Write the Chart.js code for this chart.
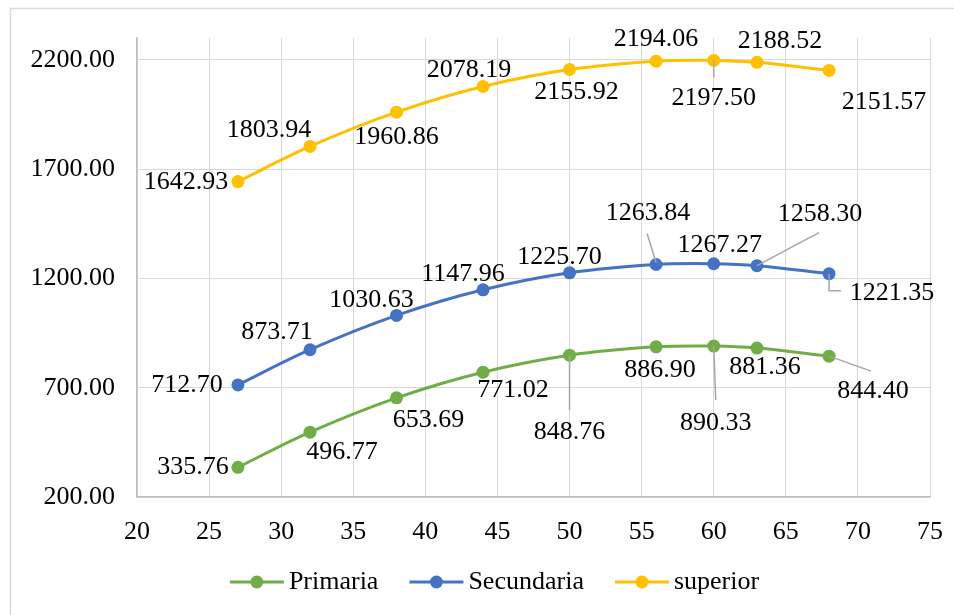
<!DOCTYPE html>
<html><head><meta charset="utf-8">
<script src="https://cdn.jsdelivr.net/npm/chart.js@4/dist/chart.umd.min.js"></script>
<style>html,body{margin:0;padding:0;background:#fff}#wrap{width:954px;height:615px;position:relative}</style>
</head><body><div id="wrap"><canvas id="c" width="954" height="615"></canvas></div>
<script>
// ---- data ----
const ages = [27, 32, 38, 44, 50, 56, 60, 63, 68];
const primaria = [335.76, 496.77, 653.69, 771.02, 848.76, 886.90, 890.33, 881.36, 844.40];
const secundaria = [712.70, 873.71, 1030.63, 1147.96, 1225.70, 1263.84, 1267.27, 1258.30, 1221.35];
const superior = [1642.93, 1803.94, 1960.86, 2078.19, 2155.92, 2194.06, 2197.50, 2188.52, 2151.57];
const seriesNames = ['Primaria', 'Secundaria', 'superior'];
const yTickValues = [200, 700, 1200, 1700, 2200];

// ---- label layout (offsets relative to each point, in px) ----
const labelLayout = [
  [ {d:[-45,0]}, {d:[32,20]}, {d:[32,22]}, {d:[30,18]}, {d:[0,77], l:[[0,0],[0,55]]},
    {d:[4,23]}, {d:[2,77], l:[[0,0],[2,54]]}, {d:[8,19]}, {d:[44,35], l:[[0,0],[42,15]]} ],
  [ {d:[-51,0]}, {d:[-33,-18]}, {d:[-25,-15]}, {d:[-20,-16]}, {d:[-10,-16]},
    {d:[-8,-51], l:[[0,-2],[-9,-31]]}, {d:[6,-19]}, {d:[63,-52], l:[[0,0],[62,-33]]},
    {d:[63,19], l:[[0,0],[0,17],[12,17]]} ],
  [ {d:[-52,1]}, {d:[-41,-16]}, {d:[0,25]}, {d:[-14,-16]}, {d:[7,23]},
    {d:[0,-22]}, {d:[0,38], l:[[0,0],[0,17]]}, {d:[23,-21]}, {d:[55,32]} ]
];
const colors = ['#70AD47', '#4472C4', '#FFC000'];
const FONT = '26px "Liberation Serif", "Times New Roman", serif';

const toPts = arr => arr.map((v, i) => ({x: ages[i], y: v}));
const seriesData = [primaria, secundaria, superior];

const labelsPlugin = {
  id: 'dl',
  afterDatasetsDraw(chart) {
    const ctx = chart.ctx;
    ctx.save();
    chart.data.datasets.forEach((ds, di) => {
      const meta = chart.getDatasetMeta(di);
      meta.data.forEach((pt, i) => {
        const lay = labelLayout[di][i];
        if (lay.l) {
          ctx.beginPath();
          ctx.strokeStyle = '#a6a6a6';
          ctx.lineWidth = 1.5;
          lay.l.forEach((p, k) => {
            const X = pt.x + p[0], Y = pt.y + p[1];
            if (k === 0) ctx.moveTo(X, Y); else ctx.lineTo(X, Y);
          });
          ctx.stroke();
        }
      });
    });
    chart.data.datasets.forEach((ds, di) => {
      const meta = chart.getDatasetMeta(di);
      meta.data.forEach((pt, i) => {
        const lay = labelLayout[di][i];
        ctx.font = FONT;
        ctx.fillStyle = '#000';
        ctx.textAlign = 'center';
        ctx.textBaseline = 'middle';
        ctx.fillText(seriesData[di][i].toFixed(2), pt.x + lay.d[0], pt.y + lay.d[1]);
      });
    });
    ctx.restore();
  }
};

const framePlugin = {
  id: 'frame',
  afterDraw(chart) {
    const ctx = chart.ctx;
    ctx.save();
    // outer chart border
    ctx.strokeStyle = '#d9d9d9';
    ctx.lineWidth = 1.5;
    ctx.strokeRect(10.5, 8.5, 990, 640);
    // legend
    ctx.font = FONT;
    const gap = 31, mw = 54, tg = 5;
    const widths = seriesNames.map(n => mw + tg + ctx.measureText(n).width);
    const total = widths.reduce((a, b) => a + b, 0) + gap * (seriesNames.length - 1);
    let x = 494.5 - total / 2;
    const y = 582;
    seriesNames.forEach((n, i) => {
      ctx.strokeStyle = colors[i];
      ctx.lineWidth = 3;
      ctx.beginPath(); ctx.moveTo(x, y); ctx.lineTo(x + mw, y); ctx.stroke();
      ctx.fillStyle = colors[i];
      ctx.beginPath(); ctx.arc(x + mw / 2, y, 6.5, 0, Math.PI * 2); ctx.fill();
      ctx.fillStyle = '#000';
      ctx.textAlign = 'left';
      ctx.textBaseline = 'middle';
      ctx.fillText(n, x + mw + tg, y);
      x += widths[i] + gap;
    });
    ctx.restore();
  }
};

new Chart(document.getElementById('c'), {
  type: 'scatter',
  data: {
    datasets: seriesNames.map((n, i) => ({
      label: n,
      data: toPts(seriesData[i]),
      showLine: true,
      borderColor: colors[i],
      backgroundColor: colors[i],
      borderWidth: 3,
      pointRadius: 6.5,
      pointHoverRadius: 6.5,
      pointBorderWidth: 0,
      tension: 0.35
    }))
  },
  options: {
    responsive: false,
    animation: false,
    layout: {padding: {left: 0, top: 38, right: 24, bottom: 0}},
    plugins: {legend: {display: false}, tooltip: {enabled: false}},
    scales: {
      x: {
        type: 'linear', min: 20, max: 75,
        ticks: {stepSize: 5, font: {family: '"Liberation Serif", serif', size: 26}, color: '#000', padding: 20, maxRotation: 0},
        grid: {color: '#d9d9d9', lineWidth: 1, drawTicks: false},
        border: {color: '#bfbfbf', width: 1.5},
        afterFit(s) { s.height = 118; s.paddingLeft = 0; s.paddingRight = 0; }
      },
      y: {
        type: 'linear', min: 200, max: 2300,
        afterBuildTicks(s) { s.ticks = yTickValues.map(v => ({value: v})); },
        ticks: {callback: v => Number(v).toFixed(2), font: {family: '"Liberation Serif", serif', size: 26}, color: '#000', padding: 22},
        grid: {color: '#d9d9d9', lineWidth: 1, drawTicks: false},
        border: {color: '#bfbfbf', width: 1.5},
        afterFit(s) { s.width = 137; s.paddingTop = 0; s.paddingBottom = 0; }
      }
    }
  },
  plugins: [labelsPlugin, framePlugin]
});
</script></body></html>
